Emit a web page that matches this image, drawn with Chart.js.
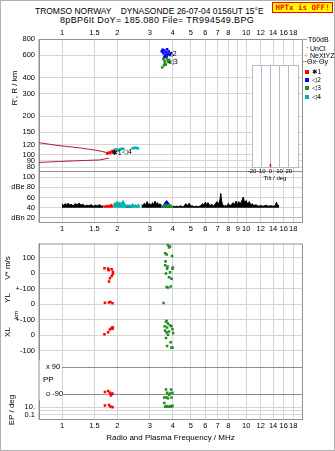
<!DOCTYPE html>
<html>
<head>
<meta charset="utf-8">
<script src="https://cdn.jsdelivr.net/npm/chart.js@4.4.1/dist/chart.umd.min.js"></script>
<style>
  html, body { margin: 0; padding: 0; background: #fff; }
  #page { position: relative; width: 335px; height: 451px; overflow: hidden;
          font-family: "Liberation Sans", Arial, sans-serif; color: #000; }
  #frame { position: absolute; left: 0; top: 0; width: 333px; height: 449px; border: 1px solid #b0b0b0; }
  canvas { position: absolute; }
  .t { position: absolute; white-space: pre; line-height: 9px; font-size: 9px; transform-origin: 0 0; }
  .rot { position: absolute; white-space: nowrap; font-size: 8px; line-height: 8px;
         transform: translate(-50%, -50%) rotate(-90deg); }
  .lg { position: absolute; font-size: 7px; line-height: 7px; white-space: nowrap; }
  .sq { position: absolute; width: 4px; height: 4px; }
  .sym { font-family: "DejaVu Sans", sans-serif; font-size: 6.5px; }
</style>
</head>
<body>
<div id="page">
  <div id="frame"></div>
  <div class="t" style="left:35px; top:7px; transform:scaleX(0.94);">TROMSO NORWAY    DYNASONDE 26-07-04 0156UT 15°E</div>
  <div class="t" style="left:60px; top:16px; letter-spacing:0.35px;">8pBP6It DoY= 185.080 File= TR994549.BPG</div>
  <div style="position:absolute; left:272px; top:2px; width:59px; height:9px; border:1px solid #f00; background:#ff0;
              color:#f00; font:bold 7.5px/9px 'DejaVu Sans Mono', monospace; text-align:center;">HPTx is OFF!</div>

  <canvas id="top" width="335" height="214" style="left:0; top:24px;"></canvas>
  <canvas id="tilt" width="62" height="122" style="left:240px; top:60px;"></canvas>
  <canvas id="bot" width="335" height="219" style="left:0; top:232px;"></canvas>

  <div class="rot" style="left:15px; top:88px;">R', R / km</div>
  <div class="rot" style="left:8px; top:268px;">V* m/s</div>
  <div class="rot" style="left:8px; top:298px;">YL</div>
  <div class="rot" style="left:8px; top:332px;">XL</div>
  <div class="rot" style="left:16px; top:315px; font-size:6px;">km</div>
  <div class="lg" style="left:43px; top:376px; font-size:8px;">PP</div>
  <div class="rot" style="left:12px; top:410px;">EP / deg</div>

  <!-- legend -->
  <div style="position:absolute; left:303px; top:39px; width:4px; height:1px; background:#999;"></div>
  <div class="lg" style="left:308px; top:36px;">T60dB</div>
  <div class="lg" style="left:306px; top:44px;">·</div>
  <div class="lg" style="left:310px; top:45px;">UnCl</div>
  <div class="lg" style="left:304px; top:52px; color:#f08080;">+</div>
  <div class="lg" style="left:310px; top:52px;">NeXtYZ</div>
  <div style="position:absolute; left:303px; top:61px; width:4px; height:1px; background:#f08080;"></div>
  <div class="lg" style="left:307px; top:58px;">Θx</div>
  <div style="position:absolute; left:314px; top:61px; width:4px; height:1px; background:#8080f0;"></div>
  <div class="lg" style="left:319px; top:58px;">Θy</div>
  <div class="sq" style="left:305px; top:70px; background:#f00;"></div>
  <div class="lg sym" style="left:312px; top:69px;">✱1</div>
  <div class="sq" style="left:305px; top:78px; background:#00f;"></div>
  <div class="lg sym" style="left:312px; top:77px;">◁2</div>
  <div class="sq" style="left:305px; top:86px; background:#228b22;"></div>
  <div class="lg sym" style="left:312px; top:85px;">◁3</div>
  <div class="sq" style="left:305px; top:95px; background:#00b0b0;"></div>
  <div class="lg sym" style="left:312px; top:94px;">◁4</div>
</div>
<script>
// frequency axis (MHz)
const F_MIN = 0.75, F_MAX = 20.1;
const FREQ_TICKS = [1, 1.5, 2, 3, 4, 5, 6, 7, 8, 10, 12, 14, 16, 18];
const FREQ_TICKS_MID = [1, 1.5, 2, 3, 4, 5, 6, 7, 8, 9, 10, 12, 14, 16, 18];
const RANGE_TICKS = [80, 90, 100, 120, 150, 200, 300, 400, 600, 800];
const DB_TICKS = [20, 40, 60, 80, 100];

// model E-region curves
const UPPER_F = [0.75, 0.95, 1.25, 1.55, 1.75, 1.8];
const UPPER_R = [124, 118, 113, 108, 104, 103];
const LOWER_F = [0.75, 0.97, 1.3, 1.6, 1.8];
const LOWER_R = [87, 88.5, 90, 91, 94];

// echo traces: frequency (MHz), virtual range (km)
const T1_F = [1.76, 1.8, 1.83, 1.86, 1.89, 1.91];
const T1_R = [102, 104, 103, 106, 105, 107];
const T2_F = [3.48, 3.52, 3.55, 3.6, 3.63, 3.68, 3.72, 3.75, 3.8, 3.85, 3.6, 3.7, 3.9];
const T2_R = [640, 660, 620, 650, 600, 630, 665, 610, 640, 600, 580, 590, 620];
const T3_F = [3.55, 3.6, 3.62, 3.66, 3.7, 3.74, 3.78, 3.82, 3.5, 3.58, 3.86];
const T3_R = [560, 540, 520, 505, 570, 545, 530, 550, 480, 500, 525];
const T4_F = [1.9, 1.94, 1.98, 2.02, 2.06, 2.1, 2.15, 2.42, 2.47, 2.53, 2.58];
const T4_R = [107, 109, 110, 108, 110, 111, 111, 112, 113, 113, 112];
const TAG_TEXT = ['✱1', '◁4', '◁2', '◁3'];
const TAG_F = [1.86, 2.12, 3.72, 3.77];
const TAG_R = [102, 104, 604, 524];

// amplitude spectrum (dB), null = taken over by an echo trace
const NOISE_F = [1.0, 1.02, 1.04, 1.06, 1.08, 1.1, 1.12, 1.15, 1.18, 1.21, 1.24, 1.27, 1.3, 1.33, 1.36, 1.4, 1.44, 1.48, 1.52, 1.56, 1.6, 1.64, 1.68,
  1.9, 2.21, 2.26, 2.3, 2.34, 2.38, 2.65, 2.7, 2.75, 2.8, 2.85, 2.9, 2.95, 3.0, 3.05, 3.1, 3.15, 3.2, 3.25, 3.3, 3.35, 3.4, 3.48,
  3.95, 4.0, 4.1, 4.2, 4.3, 4.4, 4.5, 4.6, 4.7, 4.8, 4.9, 5.0, 5.1, 5.2, 5.35, 5.5, 5.65, 5.8, 5.9, 6.0, 6.1, 6.2, 6.35, 6.5, 6.65,
  6.8, 6.95, 7.1, 7.2, 7.28, 7.35, 7.45, 7.6, 7.75, 7.9, 8.0, 8.15, 8.3, 8.5, 8.65, 8.8, 8.95, 9.1, 9.3, 9.5, 9.65, 9.8, 10.0, 10.2,
  10.4, 10.6, 10.8, 11.0, 11.3, 11.6, 12.0, 12.4, 12.8, 13.2, 13.6, 14.0, 14.4, 14.6, 14.8, 15.1];
const NOISE_DB = [47, 45, 48, 46, 49, 45, 47, 44, 48, 46, 49, 45, 47, 43, 45, 44, 46, 43, 45, 44, 46, 43, 44,
  null, 43, 44, 43, 44, 44, null, 46, 44, 49, 45, 52, 46, 48, 44, 50, 46, 53, 47, 50, 45, 48, 44,
  null, 43, 42, 43, 42, 44, 42, 43, 48, 44, 49, 43, 44, 42, 43, 42, 44, 48, 45, 51, 46, 50, 44, 47, 43,
  48, 52, 47, 55, 68, 54, 46, 43, 45, 42, 49, 43, 46, 50, 45, 53, 46, 52, 48, 55, 61, 50, 54, 47,
  52, 45, 48, 44, 46, 43, 44, 43, 45, 43, 44, 43, 44, 51, 45, 44];
const S1_F = [1.68, 1.72, 1.76, 1.8, 1.84, 1.88, 1.9];
const S1_DB = [43, 44, 45, 44, 47, 45, 44];
const S4_F = [1.9, 1.93, 1.96, 1.99, 2.02, 2.06, 2.1, 2.14, 2.18, 2.21, 2.38, 2.42, 2.46, 2.5, 2.55, 2.6, 2.65];
const S4_DB = [46, 50, 48, 53, 49, 51, 48, 54, 50, 45, 45, 48, 44, 46, 44, 47, 44];
const S2_F = [3.48, 3.55, 3.62, 3.7, 3.78, 3.86, 3.95];
const S2_DB = [41, 45, 50, 54, 50, 45, 41];
const S3_F = [3.48, 3.55, 3.65, 3.75, 3.85, 3.95, 4.02];
const S3_DB = [42, 45, 47, 46, 47, 44, 42];

// tilt histogram
const TILT_DEG = [0];
const TILT_COUNT = [3];

// velocity V* (m/s)
const V1_F = [1.7, 1.78, 1.79, 1.86, 1.89, 1.89, 1.86, 1.82, 1.8];
const V1 = [33, 31, 21, 27, 11, -4, -17, -31, -52];
const V3_F = [3.76, 3.81, 3.86, 3.63, 3.7, 3.96, 3.65, 3.63, 3.74, 4.0, 3.72, 3.98, 3.86, 3.67, 3.81, 3.93, 3.7, 3.89, 3.76, 3.74];
const V3 = [184, 169, 175, 131, 122, 113, 78, 53, 44, 38, 31, 31, 8, 0, -25, -34, -88, -85, -94, -117];
// YL, XL (km)
const YL1_F = [1.71, 1.8, 1.83, 1.88];
const YL1 = [10, 12, 15, 6];
const YL3_F = [3.56];
const YL3 = [8];
const XL1_F = [1.7, 1.78, 1.82, 1.88, 1.86, 1.89];
const XL1 = [6, 19, 36, 42, 48, 50];
const XL3_F = [3.67, 3.86, 3.93, 3.63, 3.7, 3.67, 3.76, 3.86, 3.93, 3.61, 3.72, 3.98, 3.63, 3.81, 3.7, 4.01, 3.76, 3.67, 3.89, 3.72, 3.93, 3.98];
const XL3 = [131, 127, 117, 106, 96, 86, 75, 64, 58, 58, 50, 38, 29, 23, 17, 13, 2, -19, -46, -71, -81, -81];
// polarization PP (deg), error EP (deg)
const PP1_F = [1.71, 1.78, 1.82, 1.86, 1.84, 1.88];
const PP1 = [-77, -70, -82, -92, -101, -88];
const PP3_F = [3.67, 3.91, 3.72, 3.86, 3.98, 3.59, 3.69, 3.76, 3.93, 3.81];
const PP3 = [-60, -60, -82, -88, -82, -114, -114, -118, -114, -95];
const EP1_F = [1.71, 1.8, 1.83, 1.88];
const EP1 = [27, 37, 15, 10];
const EP3_F = [3.59, 3.69, 3.86, 3.98, 3.63, 3.76, 3.91];
const EP3 = [119, 18, 18, 21, 12, 12, 12];

Chart.defaults.font.family = "'Liberation Sans', Arial, sans-serif";
Chart.defaults.font.size = 7.5;
Chart.defaults.color = '#000';

const RED = '#ff0000', BLUE = '#0000ff', GREEN = '#228b22', CYAN = '#00b0b0', MODEL = '#b01c3c';
const GRID = '#d6d6d6', EDGE = '#909090';
const pts = (fs, vs) => fs.map((f, i) => ({ x: f, y: vs[i] }));

function freqAxis(position, ticks, height, extra) {
  return Object.assign({
    type: 'logarithmic', axis: 'x', position: position, min: F_MIN, max: F_MAX,
    afterBuildTicks: s => { s.ticks = ticks.map(v => ({ value: v })); },
    afterFit: s => { s.height = height; },
    ticks: { callback: v => String(v), autoSkip: false, maxRotation: 0, minRotation: 0, padding: 2 },
    grid: { color: GRID, drawTicks: false },
    border: { color: EDGE }
  }, extra || {});
}

function stackAxis(type, min, max, weight, ticks, labels, stack, extra) {
  return Object.assign({
    type: type, axis: 'y', position: 'left', stack: stack, stackWeight: weight, min: min, max: max,
    afterBuildTicks: s => { s.ticks = ticks.map(v => ({ value: v })); },
    afterFit: s => { s.width = 39; },
    ticks: { callback: (v, i) => labels[i], autoSkip: false, padding: 4 },
    grid: { color: GRID, drawTicks: false },
    border: { color: EDGE }
  }, extra || {});
}

function scatter(label, fs, vs, color, x, y) {
  return { label: label, data: pts(fs, vs), xAxisID: x, yAxisID: y, showLine: false,
    pointStyle: 'rect', pointRadius: 1.8, pointBorderWidth: 0, backgroundColor: color, borderColor: color };
}

function spectrum(label, fs, vs, color) {
  return { label: label, data: pts(fs, vs), xAxisID: 'x', yAxisID: 'db', showLine: true,
    borderColor: color, backgroundColor: color, borderWidth: 1, pointRadius: 0, tension: 0,
    fill: { value: 40 }, spanGaps: false };
}

const framePlugin = {
  id: 'frame',
  beforeDatasetsDraw(chart, args, opts) {
    const a = chart.chartArea, ctx = chart.ctx;
    ctx.save();
    ctx.strokeStyle = EDGE;
    ctx.lineWidth = 1;
    ctx.beginPath();
    ctx.moveTo(a.left, a.bottom + 0.5); ctx.lineTo(a.left, a.top + 0.5);
    ctx.lineTo(a.right + 0.5, a.top + 0.5); ctx.lineTo(a.right + 0.5, a.bottom + 0.5);
    if (opts.split) {
      const y = Math.round(chart.scales[opts.split].top) + 0.5;
      ctx.moveTo(a.left, y); ctx.lineTo(a.right, y);
    }
    ctx.stroke();
    ctx.restore();
  }
};

const tagPlugin = {
  id: 'tags',
  afterDatasetsDraw(chart) {
    const ctx = chart.ctx, xs = chart.scales.x, ys = chart.scales.h;
    ctx.save();
    ctx.font = "7px 'DejaVu Sans', sans-serif";
    ctx.fillStyle = '#000';
    ctx.textBaseline = 'middle';
    TAG_TEXT.forEach((t, i) => ctx.fillText(t, xs.getPixelForValue(TAG_F[i]), ys.getPixelForValue(TAG_R[i])));
    ctx.restore();
  }
};

new Chart(document.getElementById('top'), {
  type: 'scatter',
  data: {
    datasets: [
      scatter('1', T1_F, T1_R, RED, 'x', 'h'),
      scatter('2', T2_F, T2_R, BLUE, 'x', 'h'),
      scatter('3', T3_F, T3_R, GREEN, 'x', 'h'),
      scatter('4', T4_F, T4_R, CYAN, 'x', 'h'),
      { label: 'upper', data: pts(UPPER_F, UPPER_R), xAxisID: 'x', yAxisID: 'h', showLine: true,
        borderColor: MODEL, borderWidth: 1, pointRadius: 0 },
      { label: 'lower', data: pts(LOWER_F, LOWER_R), xAxisID: 'x', yAxisID: 'h', showLine: true,
        borderColor: MODEL, borderWidth: 1, pointRadius: 0 },
      spectrum('s1', S1_F, S1_DB, RED),
      spectrum('s3', S3_F, S3_DB, GREEN),
      spectrum('s2', S2_F, S2_DB, BLUE),
      spectrum('s4', S4_F, S4_DB, CYAN),
      spectrum('noise', NOISE_F, NOISE_DB, '#000')
    ]
  },
  options: {
    responsive: false, animation: false, events: [], devicePixelRatio: 1,
    layout: { padding: { left: 0, right: 33, top: 0, bottom: 0 } },
    plugins: { legend: { display: false }, tooltip: { enabled: false }, frame: { split: 'db' } },
    scales: {
      x: freqAxis('bottom', FREQ_TICKS_MID, 16),
      x2: freqAxis('top', FREQ_TICKS, 15, { grid: { display: false, drawTicks: false }, border: { display: false } }),
      db: stackAxis('linear', 12, 112, 51, DB_TICKS, ['dBn 20', '40', '60', 'dBe 80', '100'], 'L', {
        grid: { drawTicks: false, color: c => (c.tick && c.tick.value === 20 ? '#b4b4dc' : GRID) }
      }),
      h: stackAxis('logarithmic', 74.6, 800, 132, RANGE_TICKS, RANGE_TICKS.map(String), 'L')
    }
  },
  plugins: [framePlugin, tagPlugin]
});

new Chart(document.getElementById('tilt'), {
  type: 'scatter',
  data: {
    datasets: [{ label: 'tilt', data: TILT_DEG.flatMap((d, i) => [{ x: d, y: 0 }, { x: d, y: TILT_COUNT[i] }]),
      xAxisID: 'x', yAxisID: 'y', showLine: true, borderColor: RED, borderWidth: 1.5, pointRadius: 0 }]
  },
  options: {
    responsive: false, animation: false, events: [], devicePixelRatio: 1,
    layout: { padding: { left: 12, right: 4, top: 5, bottom: 0 } },
    plugins: { legend: { display: false }, tooltip: { enabled: false } },
    scales: {
      x: { type: 'linear', min: -20, max: 30,
        afterBuildTicks: s => { s.ticks = [-20, -10, 0, 10, 20].map(v => ({ value: v })); },
        afterFit: s => { s.height = 15; },
        ticks: { font: { size: 6 }, padding: 1, autoSkip: false, maxRotation: 0 },
        grid: { color: '#b8b8cc', drawTicks: false },
        border: { color: '#b8b8cc' },
        title: { display: true, text: 'Tilt / deg', font: { size: 6 }, padding: 0 } },
      y: { type: 'linear', min: 0, max: 100, display: false }
    }
  },
  plugins: [{
    id: 'bg',
    beforeDraw(chart) {
      const a = chart.chartArea, ctx = chart.ctx;
      ctx.save();
      ctx.fillStyle = '#fff';
      ctx.fillRect(a.left, a.top, a.right - a.left, a.bottom - a.top);
      ctx.strokeStyle = '#b8b8cc';
      ctx.strokeRect(a.left + 0.5, a.top + 0.5, a.right - a.left, a.bottom - a.top);
      ctx.restore();
    }
  }]
});

const ppPlugin = {
  id: 'ppLines',
  beforeDatasetsDraw(chart) {
    const ctx = chart.ctx, a = chart.chartArea, pp = chart.scales.pp;
    const x0 = chart.scales.x.getPixelForValue(1);
    ctx.save();
    ctx.strokeStyle = '#8c8c8c';
    ctx.lineWidth = 1;
    ctx.beginPath();
    [90, -90].forEach(v => {
      const y = Math.round(pp.getPixelForValue(v)) + 0.5;
      ctx.moveTo(x0, y); ctx.lineTo(a.right, y);
    });
    ctx.stroke();
    ctx.restore();
  }
};

new Chart(document.getElementById('bot'), {
  type: 'scatter',
  data: {
    datasets: [
      scatter('V1', V1_F, V1, RED, 'x', 'v'),
      scatter('V3', V3_F, V3, GREEN, 'x', 'v'),
      scatter('YL1', YL1_F, YL1, RED, 'x', 'yl'),
      scatter('YL3', YL3_F, YL3, GREEN, 'x', 'yl'),
      scatter('XL1', XL1_F, XL1, RED, 'x', 'xl'),
      scatter('XL3', XL3_F, XL3, GREEN, 'x', 'xl'),
      scatter('PP1', PP1_F, PP1, RED, 'x', 'pp'),
      scatter('PP3', PP3_F, PP3, GREEN, 'x', 'pp'),
      scatter('EP1', EP1_F, EP1, RED, 'x', 'ep'),
      scatter('EP3', EP3_F, EP3, GREEN, 'x', 'ep')
    ]
  },
  options: {
    responsive: false, animation: false, events: [], devicePixelRatio: 1,
    layout: { padding: { left: 0, right: 33, top: 5, bottom: 0 } },
    plugins: { legend: { display: false }, tooltip: { enabled: false }, frame: {} },
    scales: {
      x: freqAxis('bottom', FREQ_TICKS, 32, {
        title: { display: true, text: 'Radio and Plasma Frequency / MHz', font: { size: 8 }, padding: { top: 4, bottom: 8 } }
      }),
      ep: stackAxis('logarithmic', 0.0084, 470, 19, [10, 1, 0.1], ['10.', '', '0.1'], 'B'),
      pp: stackAxis('linear', -135, 141, 43, [90, -90], ['x 90', 'o -90'], 'B', {
        ticks: { callback: (v, i) => ['x 90', 'o -90'][i], autoSkip: false, mirror: true, padding: 7 },
        grid: { display: false, drawTicks: false }, border: { display: false }
      }),
      xl: stackAxis('linear', -156, 100, 41, [100, 0, -100], ['', '0', '-100'], 'B'),
      yl: stackAxis('linear', -100, 100, 32, [100, 0, -100], ['', '0', '+-100'], 'B'),
      v: stackAxis('linear', -100, 194, 47, [100, 0, -100], ['100', '0', '+-100'], 'B')
    }
  },
  plugins: [framePlugin, ppPlugin]
});
</script>
</body>
</html>
